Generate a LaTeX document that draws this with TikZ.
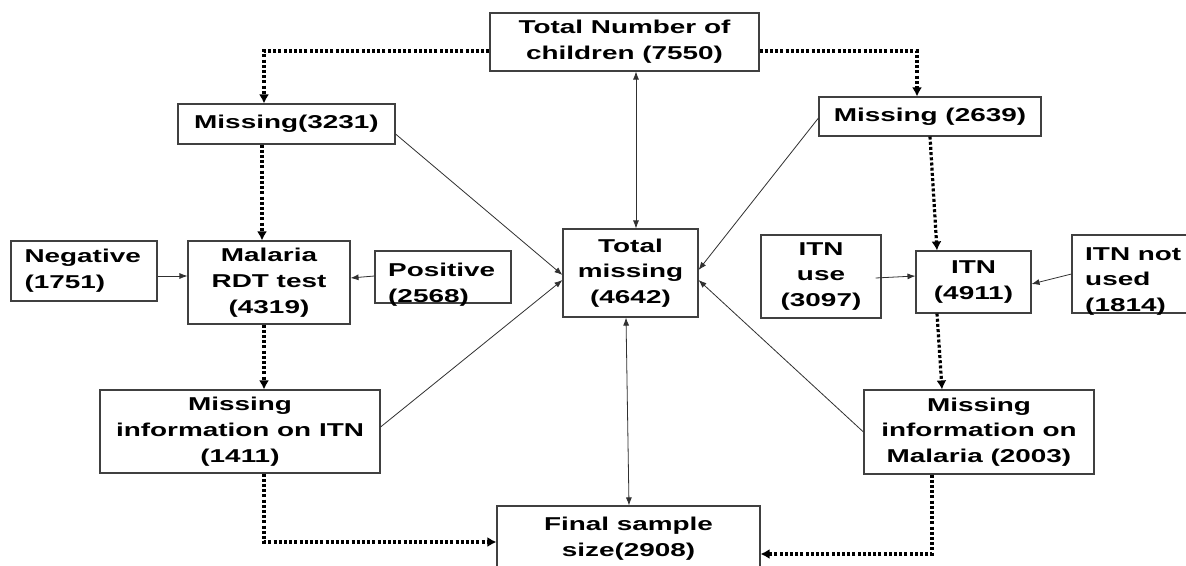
\documentclass[tikz,border=0pt]{standalone}
\usepackage{fontspec}
\setmainfont{Liberation Sans}[FakeStretch=1.5]
\usetikzlibrary{arrows.meta}
\definecolor{boxgray}{HTML}{404040}
\definecolor{linegray}{HTML}{303030}
\newcommand\boxfont{\fontsize{18.6}{25.7}\selectfont\bfseries}
\begin{document}
\begin{tikzpicture}[x=1pt,y=-1pt,
  box/.style={draw=boxgray, line width=1.1pt, inner sep=0pt, align=center, font=\boxfont},
  txt/.style={inner sep=0pt, align=left, font=\boxfont},
  dotarrow/.style={line width=3.2pt, dash pattern=on 3pt off 2.2pt, -{Latex[length=9pt,width=10pt]}},
  thinarrow/.style={line width=0.8pt, draw=linegray, -{Latex[length=8pt,width=6pt]}},
  dblarrow/.style={line width=0.8pt, draw=linegray, {Latex[length=8pt,width=6pt]}-{Latex[length=8pt,width=6pt]}}
]
\useasboundingbox (0,0) rectangle (1186,565);
\fill[white] (0,0) rectangle (1186,565);

% nodes
\node[box, minimum width=269pt, minimum height=58pt] (tot) at (624.5,42) {Total Number of\\children (7550)};
\node[box, minimum width=217pt, minimum height=40pt] (m1) at (286.5,124) {Missing(3231)};
\node[box, minimum width=222pt, minimum height=39pt] (m2) at (930,116.5) {Missing (2639)};
\node[box, minimum width=146pt, minimum height=60pt, align=left, text width=119pt] (neg) at (84,271) {Negative\\(1751)};
\node[box, minimum width=162pt, minimum height=83pt] (mal) at (269,282.5) {Malaria\\RDT test\\(4319)};
\node[box, minimum width=136pt, minimum height=52pt] (pos) at (443,277) {};
\node[txt, anchor=north west] (postxt) at (388,263) {Positive\\(2568)};
\node[box, minimum width=135pt, minimum height=88pt] (totm) at (630.5,273) {Total\\missing\\(4642)};
\node[box, minimum width=120pt, minimum height=83pt] (itnu) at (821,276.5) {ITN\\use\\(3097)};
\node[box, minimum width=115pt, minimum height=62pt] (itn) at (973.5,282) {ITN\\(4911)};
\node[box, minimum width=150pt, minimum height=78pt] (itnn) at (1147,274) {};
\node[txt, anchor=north west] (itnntxt) at (1085,247) {ITN not\\used\\(1814)};
\node[box, minimum width=280pt, minimum height=83pt] (mitn) at (240,431.5) {Missing\\information on ITN\\(1411)};
\node[box, minimum width=230pt, minimum height=84pt] (mmal) at (979,432) {Missing\\information on\\Malaria (2003)};
\node[box, minimum width=263pt, minimum height=84pt] (fin) at (628.5,548) {};
\node[txt, anchor=north, align=center] (fintxt) at (628.5,517) {Final sample\\size(2908)};

% dotted connectors
\draw[dotarrow] ([yshift=-9pt]tot.west) -| ([xshift=-22.5pt]m1.north);
\draw[dotarrow] ([yshift=-9pt]tot.east) -| ([xshift=-13pt]m2.north);
\draw[dotarrow] ([xshift=-24.5pt]m1.south) -- ([xshift=-7pt]mal.north);
\draw[dotarrow] ([xshift=-5pt]mal.south) -- ([xshift=24pt]mitn.north);
\draw[dotarrow] (m2.south) -- ([xshift=-36.5pt]itn.north);
\draw[dotarrow] ([xshift=-36.5pt]itn.south) -- ([xshift=-37pt]mmal.north);
\draw[dotarrow] ([xshift=24pt]mitn.south) |- ([yshift=6pt]fin.west);
\draw[dotarrow] ([xshift=-47pt]mmal.south) |- ([yshift=-6pt]fin.east);

% thin connectors
\draw[thinarrow] ([yshift=-5pt]neg.east) -- ([yshift=6.5pt]mal.west);
\draw[thinarrow] ([yshift=1pt]pos.west) -- ([yshift=4.5pt]mal.east);
\draw[thinarrow] ([yshift=-10pt]m1.east) -- ([yshift=-2pt]totm.west);
\draw[thinarrow] ([yshift=4.5pt]mitn.east) -- ([yshift=-7pt]totm.west);
\draw[thinarrow] ([yshift=-1.5pt]m2.west) -- ([yshift=3pt]totm.east);
\draw[thinarrow] (mmal.west) -- ([yshift=-7pt]totm.east);
\draw[thinarrow] ([xshift=-6pt,yshift=-1.5pt]itnu.east) -- ([yshift=6pt]itn.west);
\draw[thinarrow] (itnn.west) -- ([yshift=-2pt]itn.east);
\draw[dblarrow] ([xshift=11.5pt]tot.south) -- ([xshift=5.5pt]totm.north);
\draw[dblarrow] ([xshift=-4.5pt]totm.south) -- ([xshift=0.5pt]fin.north);
\end{tikzpicture}
\end{document}
